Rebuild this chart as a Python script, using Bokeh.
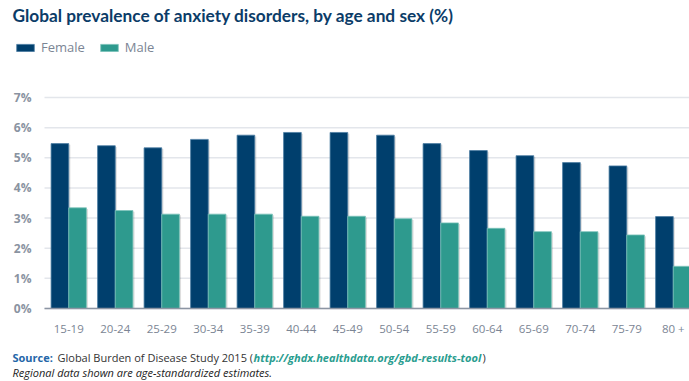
from bokeh.plotting import figure
from bokeh.models import Range1d, FixedTicker, Label, Legend, LegendItem, ColumnDataSource
from bokeh.transform import dodge
from bokeh.embed import file_html
from bokeh.resources import INLINE

categories = ["15-19", "20-24", "25-29", "30-34", "35-39", "40-44", "45-49",
              "50-54", "55-59", "60-64", "65-69", "70-74", "75-79", "80 +"]
female = [5.47, 5.40, 5.33, 5.61, 5.75, 5.84, 5.84, 5.75, 5.47, 5.24, 5.07, 4.84, 4.73, 3.05]
male = [3.34, 3.25, 3.13, 3.13, 3.13, 3.06, 3.06, 2.98, 2.84, 2.66, 2.55, 2.55, 2.44, 1.40]
y_ticks = [0, 1, 2, 3, 4, 5, 6, 7]
y_tick_labels = ["0%", "1%", "2%", "3%", "4%", "5%", "6%", "7%"]

FEMALE_C = "#003f6d"
MALE_C = "#2e9a8e"
NAVY = "#0b3c68"
GRAY = "#7b8594"

idx = list(range(len(categories)))
src = ColumnDataSource(dict(x=idx, female=female, male=male,
                            female_sh=[v - 0.04 for v in female],
                            male_sh=[v - 0.04 for v in male]))

W, H = 689, 381
# pixel geometry of the plotting area inside the canvas
PX_LEFT, PX_TOP, PX_BOTTOM = 45.0, 97.0, 308.0
X_PX = 46.5                       # pixels per category
Y_PX = (PX_BOTTOM - PX_TOP) / 7   # pixels per percent
x0 = -0.5 - PX_LEFT / X_PX
x1 = -0.5 + (W - PX_LEFT) / X_PX
y1 = 7 + PX_TOP / Y_PX
y0 = -(H - PX_BOTTOM) / Y_PX
xl = -0.5 - 1.0 / X_PX            # left edge of the plotting area

p = figure(width=W, height=H, output_backend="svg", toolbar_location=None,
           x_range=Range1d(x0, x1), y_range=Range1d(y0, y1),
           min_border=0, min_border_left=0, min_border_right=0,
           min_border_top=0, min_border_bottom=0)
p.outline_line_color = None
p.background_fill_color = "white"
p.border_fill_color = "white"

# grid lines restricted to the plotting area
p.xgrid.grid_line_color = None
p.ygrid.grid_line_color = None
gl = p.segment(x0=xl, x1=x1, y0=y_ticks, y1=y_ticks, line_color="#e3e6eb", line_width=1.5)

bw = 0.38
p.vbar(x=dodge("x", -bw / 2 + 0.035), top="female_sh", width=bw, source=src,
       fill_color="black", fill_alpha=0.13, line_color=None)
p.vbar(x=dodge("x", bw / 2 + 0.035), top="male_sh", width=bw, source=src,
       fill_color="black", fill_alpha=0.13, line_color=None)
rf = p.vbar(x=dodge("x", -bw / 2), top="female", width=bw, source=src,
            fill_color=FEMALE_C, line_color="#4d7ea3", line_width=0.8)
rm = p.vbar(x=dodge("x", bw / 2), top="male", width=bw, source=src,
            fill_color=MALE_C, line_color="#7cc3ba", line_width=0.8)

# axes
p.xaxis.fixed_location = 0
p.xaxis.bounds = (xl, x1)
p.xaxis.ticker = FixedTicker(ticks=idx)
p.xaxis.major_label_overrides = {i: c for i, c in zip(idx, categories)}
p.xaxis.major_tick_line_color = None
p.xaxis.minor_tick_line_color = None
p.xaxis.axis_line_color = "#8c95a3"
p.xaxis.axis_line_width = 1.5
p.xaxis.major_label_text_font = "Open Sans"
p.xaxis.major_label_text_font_size = "11.5px"
p.xaxis.major_label_text_color = GRAY
p.xaxis.major_label_standoff = 6

p.yaxis.fixed_location = xl
p.yaxis.bounds = (0, 7)
p.yaxis.ticker = FixedTicker(ticks=y_ticks)
p.yaxis.major_label_overrides = {t: l for t, l in zip(y_ticks, y_tick_labels)}
p.yaxis.major_tick_line_color = None
p.yaxis.minor_tick_line_color = None
p.yaxis.axis_line_color = None
p.yaxis.major_label_text_font = "Open Sans"
p.yaxis.major_label_text_font_size = "12px"
p.yaxis.major_label_text_font_style = "bold"
p.yaxis.major_label_text_color = "#8a93a1"
p.yaxis.major_label_standoff = 7


def lab(text, cx, cy, size, color, style="normal", font="Open Sans"):
    p.add_layout(Label(x=cx, y=H - cy, x_units="screen", y_units="screen",
                       text=text, text_font=font, text_font_size=size,
                       text_color=color, text_font_style=style,
                       text_baseline="middle", text_align="left"))


lab("Global prevalence of anxiety disorders, by age and sex (%)", 12, 15, "17.3px",
    NAVY, "bold", "Lato")

legend = Legend(items=[LegendItem(label="Female", renderers=[rf]),
                       LegendItem(label="Male", renderers=[rm])],
                orientation="horizontal", location=(14, H - 56),
                glyph_width=22, glyph_height=9, label_height=9,
                label_standoff=5, spacing=13, padding=0, margin=0,
                border_line_alpha=0, background_fill_alpha=0,
                label_text_font="Open Sans", label_text_font_size="13px",
                label_text_color=GRAY, label_text_baseline="middle")
p.add_layout(legend)

lab("Source:", 12, 357, "11px", "#2466a8", "bold")
lab("Global Burden of Disease Study 2015 (", 57, 357, "11px", "#333333")
lab("http://ghdx.healthdata.org/gbd-results-tool", 253, 357, "11px", "#2a9d8f", "bold italic")
lab(")", 482, 357, "11px", "#333333")
lab("Regional data shown are age-standardized estimates.", 12, 372, "11px", "#222222", "italic")

open("out.html", "w").write(file_html(p, INLINE))
